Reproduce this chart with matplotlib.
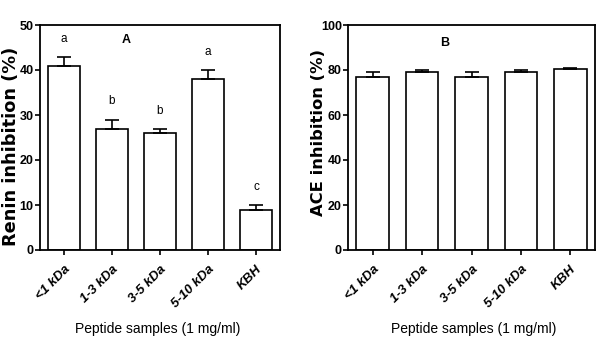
import matplotlib
matplotlib.use("Agg")
import matplotlib.pyplot as plt
import numpy as np

categories = ["<1 kDa", "1-3 kDa", "3-5 kDa", "5-10 kDa", "KBH"]
renin_values = [41, 27, 26, 38, 9]
renin_err = [2, 2, 1, 2, 1]
renin_letters = ["a", "b", "b", "a", "c"]
ace_values = [77, 79, 77, 79, 80.5]
ace_err = [2, 1, 2, 1, 0.5]

sans = ['Liberation Sans', 'DejaVu Sans']
wide = ['DejaVu Sans']

fig = plt.figure(figsize=(6.0, 3.49), dpi=100)
W, H = 600, 349
axA = fig.add_axes([40/W, 1-250/H, 240/W, 225/H])
axB = fig.add_axes([348/W, 1-250/H, 247/W, 225/H])

def style(ax, ymax, step, ylabel, ylab_size, ylab_xy, xlab_xy):
    x = np.arange(len(categories))
    ax.set_xlim(-0.5, len(categories)-0.5)
    ax.set_ylim(0, ymax)
    ax.set_yticks(np.arange(0, ymax+1, step))
    ax.set_xticks(x)
    ax.set_xticklabels(categories, rotation=45, ha='right', rotation_mode='anchor',
                       fontstyle='italic', fontweight='bold', family=sans, fontsize=9.5)
    for lab in ax.get_yticklabels():
        lab.set_family(sans); lab.set_fontweight('bold'); lab.set_fontsize(9)
    for s in ax.spines.values():
        s.set_linewidth(1.3)
    ax.tick_params(axis='both', direction='out', length=3.5, width=1.2, pad=1)
    ax.tick_params(axis='x', pad=6)
    ax.set_ylabel(ylabel, family=wide, fontweight='bold', fontsize=ylab_size)
    ax.yaxis.set_label_coords(*ylab_xy)
    ax.set_xlabel("Peptide samples (1 mg/ml)", family=sans, fontsize=10, va='top')
    ax.xaxis.set_label_coords(*xlab_xy)

x = np.arange(len(categories))
axA.bar(x, renin_values, width=0.65, color='white', edgecolor='black', linewidth=1.2,
        yerr=[np.zeros(len(x)), renin_err], capsize=5,
        error_kw=dict(elinewidth=1.2, capthick=1.2, ecolor='black'), zorder=2)
style(axA, 50, 10, "Renin inhibition (%)", 12.8, (-0.085, 0.462), (0.49, -0.32))
for xi, v, e, t in zip(x, renin_values, renin_err, renin_letters):
    axA.text(xi, v + e + 4, t, ha='center', va='center', fontsize=8.5, family=sans)
axA.text(1.3, 46.7, "A", ha='center', va='center', fontsize=9, fontweight='bold', family=sans)

axB.bar(x, ace_values, width=0.66, color='white', edgecolor='black', linewidth=1.2,
        yerr=[np.zeros(len(x)), ace_err], capsize=5,
        error_kw=dict(elinewidth=1.2, capthick=1.2, ecolor='black'), zorder=2)
style(axB, 100, 20, "ACE inhibition (%)", 11.8, (-0.088, 0.52), (0.51, -0.32))
axB.text(1.45, 92, "B", ha='center', va='center', fontsize=9, fontweight='bold', family=sans)

fig.savefig("out.png", dpi=100)
